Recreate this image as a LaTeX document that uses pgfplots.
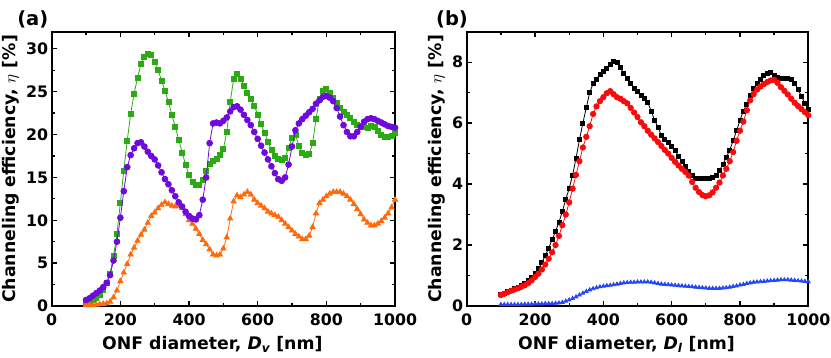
\documentclass[border=0pt]{standalone}
\usepackage{fontspec}
\setmainfont{DejaVu Sans}
\usepackage{pgfplots}
\usepackage{pgfplotstable}
\pgfplotsset{compat=1.18}

\definecolor{cgreen}{RGB}{44,170,20}
\definecolor{cpurple}{RGB}{110,10,220}
\definecolor{corange}{RGB}{255,105,10}
\definecolor{cred}{RGB}{250,10,10}
\definecolor{cblue}{RGB}{35,70,255}

\newcommand\tk{\fontsize{15.8}{18}\selectfont\bfseries}
\newcommand\lbl{\fontsize{17.3}{19}\selectfont\bfseries}

% left panel: d [nm], green squares, purple circles, orange triangles
\pgfplotstableread{
d g p o
100 0.4 0.7 0.1
110 0.5 0.9 0.1
120 0.7 1.2 0.1
130 0.9 1.5 0.15
140 1.3 1.8 0.2
150 1.9 2.2 0.25
160 2.7 2.7 0.3
170 3.8 3.6 0.5
180 5.8 5.3 1.0
190 8.4 7.5 1.8
200 12.0 10.3 2.9
210 15.8 13.4 3.9
220 19.3 16.2 4.9
230 22.4 17.6 6.0
240 24.8 18.4 6.8
250 26.6 19.0 7.6
260 28.2 19.1 8.3
270 29.1 18.6 8.9
280 29.4 18.0 9.7
290 29.3 17.5 10.5
300 28.5 17.1 10.9
310 27.5 16.4 11.4
320 26.3 15.6 11.8
330 25.1 14.8 12.1
340 23.8 14.2 11.9
350 22.3 13.5 11.7
360 20.9 12.8 11.6
370 19.4 12.1 11.7
380 17.9 11.6 11.4
390 16.5 11.0 10.7
400 15.3 10.5 10.0
410 14.5 10.2 9.6
420 14.1 10.1 9.0
430 14.1 10.6 8.4
440 14.7 12.4 7.7
450 15.8 15.0 7.2
460 16.6 19.0 6.6
470 16.9 21.3 6.0
480 17.2 21.4 5.9
490 17.6 21.3 6.0
500 18.3 21.6 6.7
510 20.3 22.0 8.0
520 23.8 22.7 10.2
530 26.5 23.2 12.2
540 27.1 23.3 12.9
550 26.5 22.9 12.7
560 25.7 22.3 13.0
570 24.9 21.7 13.3
580 24.2 21.1 13.0
590 23.4 20.3 12.4
600 22.3 19.5 12.0
610 21.2 18.7 11.7
620 20.2 17.9 11.4
630 19.2 17.1 11.0
640 18.2 16.3 10.8
650 17.5 15.5 10.6
660 17.2 14.8 10.4
670 17.0 14.6 10.0
680 17.3 15.0 9.6
690 18.5 16.5 9.2
700 19.6 18.6 8.8
710 20.0 20.5 8.4
720 18.7 21.3 8.1
730 17.9 21.8 7.8
740 17.6 22.2 7.8
750 17.7 22.6 8.2
760 19.0 23.0 9.2
770 21.8 23.6 10.8
780 24.2 24.0 12.0
790 25.1 24.4 12.4
800 25.3 24.5 12.8
810 24.9 24.3 13.1
820 24.3 23.9 13.3
830 23.7 23.1 13.3
840 23.1 22.1 13.3
850 22.7 21.1 13.1
860 22.3 20.3 12.8
870 21.9 19.8 12.4
880 21.5 19.8 11.9
890 21.1 20.3 11.3
900 21.0 20.9 10.7
910 20.9 21.5 10.1
920 20.8 21.8 9.7
930 21.0 21.9 9.4
940 20.9 21.8 9.4
950 20.4 21.6 9.6
960 20.0 21.4 9.9
970 19.7 21.2 10.3
980 19.7 21.0 10.8
990 19.9 20.9 11.5
1000 20.2 20.8 12.4
}\tabV

% right panel: d [nm], black squares, red circles, blue triangles
\pgfplotstableread{
d k r b
100 0.37 0.36 0.05
110 0.42 0.40 0.05
120 0.47 0.45 0.05
130 0.52 0.50 0.05
140 0.57 0.54 0.05
150 0.62 0.58 0.05
160 0.68 0.63 0.05
170 0.75 0.68 0.06
180 0.84 0.75 0.06
190 0.95 0.84 0.06
200 1.08 0.95 0.07
210 1.23 1.06 0.07
220 1.42 1.20 0.07
230 1.65 1.36 0.08
240 1.90 1.55 0.08
250 2.18 1.76 0.08
260 2.45 2.00 0.09
270 2.75 2.30 0.10
280 3.10 2.65 0.12
290 3.50 3.00 0.16
300 3.85 3.40 0.20
310 4.30 3.85 0.25
320 4.85 4.30 0.30
330 5.45 4.75 0.36
340 6.00 5.20 0.42
350 6.50 5.55 0.48
360 7.00 5.90 0.53
370 7.30 6.30 0.57
380 7.45 6.55 0.60
390 7.60 6.72 0.63
400 7.70 6.85 0.65
410 7.80 6.98 0.67
420 7.92 7.05 0.68
430 8.03 6.95 0.70
440 8.00 6.85 0.72
450 7.82 6.80 0.74
460 7.62 6.72 0.76
470 7.47 6.65 0.77
480 7.30 6.50 0.78
490 7.15 6.35 0.78
500 7.05 6.20 0.79
510 6.90 6.03 0.79
520 6.80 5.90 0.79
530 6.68 5.75 0.79
540 6.40 5.62 0.78
550 6.10 5.50 0.76
560 5.85 5.38 0.74
570 5.60 5.25 0.72
580 5.47 5.12 0.71
590 5.38 5.00 0.70
600 5.25 4.86 0.69
610 5.10 4.73 0.68
620 4.92 4.61 0.67
630 4.75 4.50 0.66
640 4.57 4.40 0.65
650 4.43 4.28 0.64
660 4.30 4.07 0.63
670 4.20 3.88 0.62
680 4.18 3.74 0.61
690 4.20 3.64 0.60
700 4.20 3.60 0.59
710 4.20 3.63 0.58
720 4.23 3.73 0.58
730 4.30 3.88 0.58
740 4.45 4.05 0.58
750 4.65 4.28 0.59
760 4.87 4.50 0.60
770 5.12 4.75 0.62
780 5.42 5.05 0.64
790 5.75 5.42 0.66
800 6.10 5.75 0.69
810 6.40 6.05 0.71
820 6.62 6.42 0.74
830 6.90 6.75 0.76
840 7.15 6.95 0.78
850 7.30 7.10 0.79
860 7.45 7.20 0.80
870 7.55 7.28 0.81
880 7.62 7.35 0.82
890 7.65 7.40 0.83
900 7.55 7.42 0.84
910 7.50 7.32 0.85
920 7.48 7.18 0.86
930 7.47 7.06 0.86
940 7.48 6.94 0.86
950 7.42 6.80 0.85
960 7.30 6.67 0.84
970 7.12 6.56 0.83
980 6.88 6.46 0.82
990 6.65 6.36 0.81
1000 6.45 6.26 0.80
}\tabL

\pgfplotsset{
  panel/.style={
    scale only axis, height=274.3pt,
    xmin=0, xmax=1000, xtick={0,200,...,1000}, minor x tick num=1,
    ymin=0,
    tick align=inside, major tick length=5pt, minor tick length=3pt,
    every tick/.style={black, line width=1.3pt},
    axis line style={line width=1.7pt},
    ticklabel style={font=\tk},
    xticklabel style={yshift=-4pt},
    /pgf/number format/assume math mode=true,
    /pgf/number format/1000 sep={},
    label style={font=\lbl},
    xlabel style={xshift=-11pt, yshift=-4pt},
    clip mode=individual,
  },
  ser/.style={line width=0.8pt, mark options={solid}},
}

\begin{document}
\begin{tikzpicture}
\useasboundingbox (-51.7pt,-52pt) rectangle (779.3pt,306pt);
\begin{axis}[panel, width=343.3pt,
    ymax=32, ytick={0,5,...,30}, minor y tick num=1,
    xlabel={ONF diameter, {\itshape D}\textsubscript{\itshape v} [nm]},
    ylabel={Channeling efficiency, $\eta$ [\%]}]
\addplot[ser, color=cgreen, mark=square*, mark size=2.5pt] table[x=d, y=g] {\tabV};
\addplot[ser, color=corange, mark=triangle*, mark size=3pt] table[x=d, y=o] {\tabV};
\addplot[ser, color=cpurple, mark=*, mark size=2.9pt] table[x=d, y=p] {\tabV};
\node[font=\fontsize{19.5}{22}\selectfont\bfseries] at (rel axis cs:-0.055,1.046) {(a)};
\end{axis}
\begin{axis}[panel, at={(415pt,0pt)}, width=341.6pt,
    ymax=9, ytick={0,2,...,8}, minor y tick num=1,
    xlabel={ONF diameter, {\itshape D}\textsubscript{\itshape l} [nm]},
    ylabel={Channeling efficiency, $\eta$ [\%]}]
\addplot[ser, color=black, mark=square*, mark size=2pt] table[x=d, y=k] {\tabL};
\addplot[ser, color=cred, mark=*, mark size=2.7pt] table[x=d, y=r] {\tabL};
\addplot[ser, color=cblue, mark=triangle*, mark size=2.1pt] table[x=d, y=b] {\tabL};
\node[font=\fontsize{19.5}{22}\selectfont\bfseries] at (rel axis cs:-0.043,1.046) {(b)};
\end{axis}
\end{tikzpicture}
\end{document}
